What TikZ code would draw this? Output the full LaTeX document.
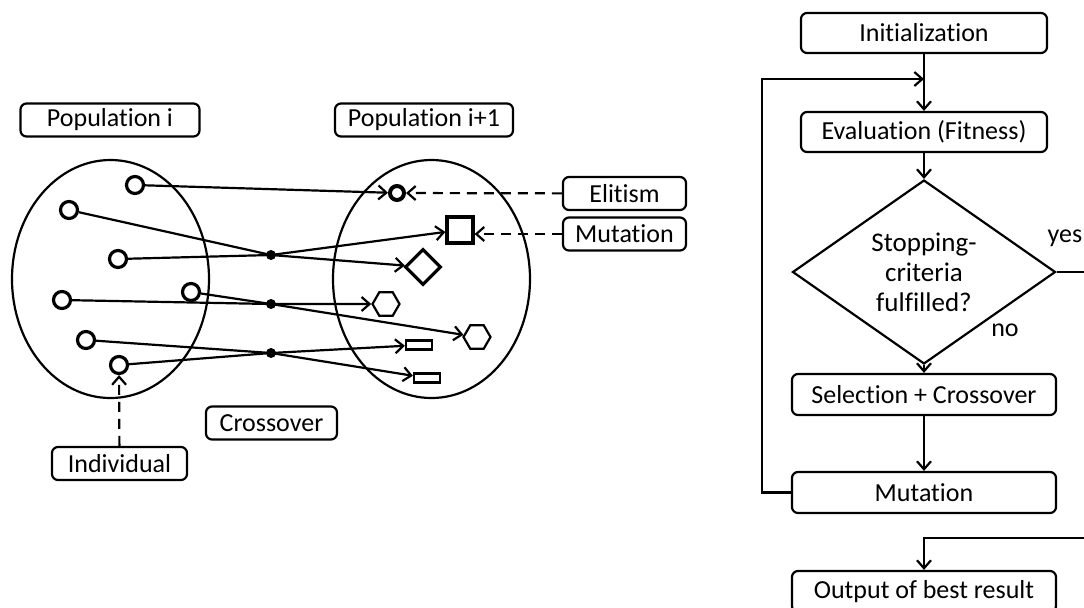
\documentclass[tikz,border=0pt]{standalone}
\usepackage{fontspec}
\setmainfont{Carlito}[Ligatures=NoCommon]
\usepackage{tikz}
\usetikzlibrary{arrows.meta}
\usetikzlibrary{shapes.geometric}
\tikzset{
	lbox/.style={draw,line width=1.1pt,rounded corners=3pt,inner sep=0pt,minimum height=16.5pt,font=\fontsize{13}{15}\selectfont},
	fbox/.style={lbox,minimum height=20.5pt},
	indiv/.style={circle,draw,line width=1.6pt,minimum size=8.5pt,inner sep=0pt},
	xdot/.style={circle,fill=black,minimum size=5pt,inner sep=0pt},
	arr/.style={line width=1.1pt,-{Straight Barb[length=4pt,width=7pt]}},
	darr/.style={arr,dash pattern=on 5pt off 3.5pt}
}

\begin{document}
\begin{tikzpicture}[x=0.5pt,y=-0.5pt,line width=1.1pt]
	\useasboundingbox (0,0) rectangle (1084,607);
	\clip (0,0) rectangle (1084,607);
	% populations
	\node[lbox,minimum width=89.5pt] (popi) at (110,120) {Population i};
	\node[lbox,minimum width=89pt] (popj) at (424,120) {Population i+1};
	\draw (110.5,279) ellipse (98.5 and 119);
	\draw (431.5,279) ellipse (98.5 and 119);
	% individuals of population i
	\node[indiv] (c1) at (135,185) {};
	\node[indiv] (c2) at (69,210) {};
	\node[indiv] (c3) at (118,259) {};
	\node[indiv] (c4) at (62,300) {};
	\node[indiv] (c5) at (191,292) {};
	\node[indiv] (c6) at (86,340) {};
	\node[indiv] (c7) at (119,365) {};
	% crossing points
	\node[xdot] (x1) at (271,255) {};
	\node[xdot] (x2) at (271,304) {};
	\node[xdot] (x3) at (271,353) {};
	% individuals of population i+1
	\node[indiv,minimum size=7pt,line width=2pt] (elite) at (397,193) {};
	\node[draw,line width=1.6pt,minimum size=13pt,inner sep=0pt] (sq) at (460,230) {};
	\node[diamond,draw,line width=1.6pt,minimum size=18pt,inner sep=0pt] (dia) at (423,267) {};
	\node[regular polygon,regular polygon sides=6,draw,minimum size=13.5pt,inner sep=0pt] (hexa) at (386,304) {};
	\node[regular polygon,regular polygon sides=6,draw,minimum size=13.5pt,inner sep=0pt] (hexb) at (477,337) {};
	\node[draw,minimum width=13pt,minimum height=4.5pt,inner sep=0pt] (ra) at (419,345) {};
	\node[draw,minimum width=13pt,minimum height=4.5pt,inner sep=0pt] (rb) at (427,378) {};
	% labels
	\node[lbox,minimum width=61.5pt] (elit) at (624.5,193.5) {Elitism};
	\node[lbox,minimum width=61.5pt] (mut) at (624.5,234) {Mutation};
	\node[lbox,minimum width=67.5pt] (ind) at (119.5,463.5) {Individual};
	\node[lbox,minimum width=65.5pt] (cross) at (271.5,423) {Crossover};
	% connections
	\draw[arr] (c1) -- (elite);
	\draw[arr] (c2) -- (x1.center) -- (dia);
	\draw[arr] (c3) -- (x1.center) -- (sq);
	\draw[arr] (c4) -- (x2.center) -- (hexa);
	\draw[arr] (c5) -- (x2.center) -- (hexb);
	\draw[arr] (c6) -- (x3.center) -- (rb);
	\draw[arr] (c7) -- (x3.center) -- (ra);
	\draw[darr] (elit) -- (elite);
	\draw[darr] (mut.west) -- (sq.east |- mut.west);
	\draw[darr] (ind) -- (c7);

	% flow chart
	\node[fbox,minimum width=123pt,minimum height=20pt] (init) at (924,33) {Initialization};
	\node[fbox,minimum width=123pt,minimum height=20pt] (eval) at (924,132) {Evaluation (Fitness)};
	\node[diamond,draw,line width=1.1pt,minimum width=131.5pt,minimum height=69pt,inner sep=0pt,align=center,font=\fontsize{13.5}{15}\selectfont] (stop) at (924,272) {Stopping-\\criteria\\fulfilled?};
	\node[fbox,minimum width=132pt] (sel) at (924,394.5) {Selection + Crossover};
	\node[fbox,minimum width=132pt] (out) at (924,591.5) {Output of best result};
	\node[fbox,minimum width=132pt] (mutf) at (924,492.5) {Mutation};
	\node[font=\fontsize{13}{15}\selectfont] (yes) at (1065,238) {yes};
	\node[font=\fontsize{13}{15}\selectfont] (no) at (1005,330) {no};
	\coordinate (loop) at (924,79);
	\coordinate (yesend) at (1090,272);
	\coordinate (back) at (1090,538);
	\draw[arr] (init) -- (eval);
	\draw[arr] (eval) -- (stop);
	\draw[arr] (stop) -- (sel);
	\draw[arr] (sel) -- (mutf);
	\draw[arr] (mutf.west) -- (762,492.5) -- (762,79) -- (loop);
	\draw (stop.east) -- (yesend);
	\draw[arr] (back) -| (out);
\end{tikzpicture}
\end{document}
